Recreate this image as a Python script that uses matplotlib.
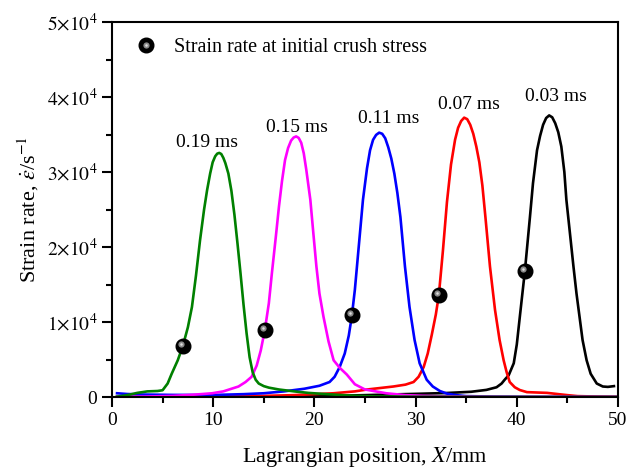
import matplotlib
matplotlib.use('Agg')
import matplotlib.pyplot as plt
from matplotlib.ticker import MultipleLocator, FixedLocator, FixedFormatter
from matplotlib.transforms import ScaledTranslation
from matplotlib.lines import Line2D
from matplotlib.legend_handler import HandlerTuple

plt.rcParams['font.family'] = ['Liberation Serif', 'DejaVu Serif']
plt.rcParams['mathtext.fontset'] = 'stix'

# 0.19 ms
x_019 = [0.5, 1.5, 2.5, 3.5, 4.5, 5.0, 5.5, 5.9, 6.5, 7.0, 7.5, 7.9, 8.3, 8.7, 9.1, 9.4, 9.7,
         9.95, 10.2, 10.4, 10.6, 10.8, 11.0, 11.2, 11.5, 11.8, 12.1, 12.4, 12.7, 13.0, 13.3,
         13.6, 13.9, 14.2, 14.5, 15.0, 15.5, 16.5, 18.0, 19.4, 21.0, 23.7, 26.0, 30.0, 35.0,
         40.0, 45.0, 50.0]
y_019 = [50, 250, 550, 750, 800, 900, 1800, 3100, 4900, 6800, 9300, 12000, 16200, 20900, 25000,
         27600, 29800, 31300, 32100, 32450, 32550, 32400, 31900, 31200, 29800, 27500, 24300,
         20500, 16500, 12300, 8500, 5300, 3300, 2300, 1800, 1450, 1250, 1000, 750, 550, 400,
         180, 80, 30, 20, 10, 0, 0]

# 0.15 ms
x_015 = [0.5, 3.0, 6.0, 8.0, 9.9, 11.0, 12.5, 13.2, 13.8, 14.3, 14.7, 15.1, 15.5, 15.8, 16.2,
         16.5, 16.8, 17.1, 17.4, 17.7, 17.95, 18.2, 18.45, 18.7, 18.95, 19.2, 19.6, 19.9, 20.2,
         20.5, 20.9, 21.4, 21.9, 22.5, 23.2, 24.0, 25.0, 27.1, 29.0, 32.0, 36.0, 40.0, 50.0]
y_015 = [0, 50, 150, 300, 500, 750, 1400, 2000, 2700, 4200, 6200, 8900, 12500, 16500, 21500,
         25400, 28800, 31600, 33200, 34200, 34600, 34750, 34550, 33900, 32500, 30300, 26300,
         21800, 17400, 13800, 10700, 7400, 4900, 3900, 3000, 1700, 1000, 500, 250, 100, 50, 20, 0]

# 0.11 ms
x_011 = [0.5, 1.5, 3.0, 6.0, 10.0, 13.0, 15.0, 17.0, 19.0, 20.5, 21.5, 22.0, 22.5, 23.0, 23.4,
         23.7, 24.0, 24.4, 24.8, 25.2, 25.5, 25.8, 26.1, 26.4, 26.7, 27.0, 27.3, 27.6, 27.9,
         28.2, 28.5, 28.95, 29.4, 29.9, 30.4, 31.1, 31.7, 32.4, 33.1, 34.0, 35.0, 38.0, 42.0, 50.0]
y_011 = [500, 400, 330, 280, 270, 380, 500, 750, 1100, 1500, 2000, 2700, 4000, 5800, 8200,
         10800, 14300, 20300, 26300, 30500, 32900, 34300, 34950, 35250, 35100, 34500, 33300,
         31800, 29800, 27200, 24000, 17400, 12000, 7600, 4500, 2300, 1400, 800, 450, 250, 120,
         50, 20, 0]

# 0.07 ms
x_007 = [0.5, 5.0, 10.0, 15.0, 18.0, 21.9, 24.0, 25.2, 26.5, 27.8, 29.0, 29.8, 30.3, 30.8,
         31.2, 31.6, 32.0, 32.3, 32.7, 33.1, 33.5, 33.9, 34.2, 34.5, 34.8, 35.1, 35.4, 35.7,
         36.0, 36.3, 36.6, 36.9, 37.35, 37.85, 38.3, 38.7, 39.0, 39.3, 39.8, 40.3, 41.0, 42.0,
         43.0, 44.0, 45.0, 46.0, 48.0, 50.0]
y_007 = [0, 20, 60, 150, 250, 500, 750, 1000, 1200, 1400, 1650, 2000, 2700, 4000, 5800, 8300,
         11000, 13600, 19500, 26000, 31000, 34300, 35900, 36800, 37250, 37050, 36300, 35100,
         33400, 31300, 28200, 24000, 17400, 11600, 7600, 4900, 3300, 2000, 1300, 930, 650, 600,
         550, 400, 250, 120, 60, 30]

# 0.03 ms
x_003 = [0.5, 10.0, 20.0, 25.0, 30.0, 33.0, 35.5, 37.0, 38.0, 38.5, 38.8, 39.2, 39.7, 40.0,
         40.3, 40.8, 41.3, 41.6, 42.0, 42.3, 42.6, 42.9, 43.2, 43.5, 43.8, 44.1, 44.4, 44.7,
         44.9, 45.2, 45.6, 45.9, 46.2, 46.5, 46.9, 47.3, 47.9, 48.5, 49.0, 49.6]
y_003 = [0, 20, 100, 250, 420, 530, 700, 950, 1300, 1800, 2300, 2900, 4500, 7000, 10700, 16800,
         24000, 28500, 32900, 34800, 36300, 37200, 37550, 37300, 36500, 35300, 33400, 30000,
         26300, 22500, 17400, 13800, 10700, 7600, 4900, 3100, 1800, 1400, 1350, 1450]

# strain rate at initial crush stress
crush_x = [7.0, 15.1, 23.7, 32.3, 40.8]
crush_y = [6800, 8900, 10900, 13600, 16800]

labels = ['0.19 ms', '0.15 ms', '0.11 ms', '0.07 ms', '0.03 ms']
label_x = [9.4, 18.3, 27.3, 35.3, 43.9]
label_y = [33900, 35900, 37200, 39000, 40100]

fig = plt.figure(figsize=(6.41, 4.69), dpi=100)
ax = fig.add_axes([0.1747, 0.1535, 0.7894, 0.7995])

lw = 1.9
kw = dict(lw=lw, solid_joinstyle='round')
ax.plot(x_003, y_003, color='black', **kw)
ax.plot(x_007, y_007, color='#ff0000', **kw)
ax.plot(x_011, y_011, color='#0000ff', **kw)
ax.plot(x_015, y_015, color='#ff00ff', **kw)
ax.plot(x_019, y_019, color='#008000', **kw)

# ball-like markers
hl = ax.transData + ScaledTranslation(-1.6 / 72, 1.6 / 72, fig.dpi_scale_trans)
ax.plot(crush_x, crush_y, 'o', color='black', ms=10.5, zorder=5)
ax.plot(crush_x, crush_y, 'o', color='#8a8a8a', ms=4.5, mec='none', transform=hl, zorder=6)
ax.plot(crush_x, crush_y, 'o', color='#e0e0e0', ms=1.8, mec='none', transform=hl, zorder=7)

for t, lx, ly in zip(labels, label_x, label_y):
    ax.text(lx, ly, t, fontsize=14, ha='center', va='center')

h1 = Line2D([], [], ls='none', marker='o', color='black', ms=10.5)
h2 = Line2D([], [], ls='none', marker='o', color='#8a8a8a', mec='none', ms=4.5)
h3 = Line2D([], [], ls='none', marker='o', color='#e0e0e0', mec='none', ms=1.8)
ax.legend([(h1, h2, h3)], ['Strain rate at initial crush stress'],
          handler_map={tuple: HandlerTuple(ndivide=1)},
          loc='upper left', bbox_to_anchor=(0.015, 0.995), frameon=False, fontsize=14.5,
          handlelength=1.2, handletextpad=0.8, borderaxespad=0.3)

ax.set_xlim(0, 50)
ax.set_ylim(0, 50000)
ax.xaxis.set_major_locator(MultipleLocator(10))
ax.xaxis.set_minor_locator(MultipleLocator(5))
yt = [0, 10000, 20000, 30000, 40000, 50000]
ax.yaxis.set_major_locator(FixedLocator(yt))
ax.yaxis.set_major_formatter(FixedFormatter(['0'] + [r'$%d{\times}10^4$' % i for i in range(1, 6)]))
ax.yaxis.set_minor_locator(MultipleLocator(5000))

ax.tick_params(which='both', direction='out', top=False, right=False, width=1.5, labelsize=14)
ax.tick_params(which='major', length=7)
ax.tick_params(which='minor', length=4)
for s in ax.spines.values():
    s.set_linewidth(1.5)

ax.set_xlabel(r'Lagrangian position, $X$/mm', fontsize=16, labelpad=12)
ax.set_ylabel(r'Strain rate, $\dot{\varepsilon}$/s$^{-1}$', fontsize=16, labelpad=4)

fig.savefig('out.png', dpi=100)
